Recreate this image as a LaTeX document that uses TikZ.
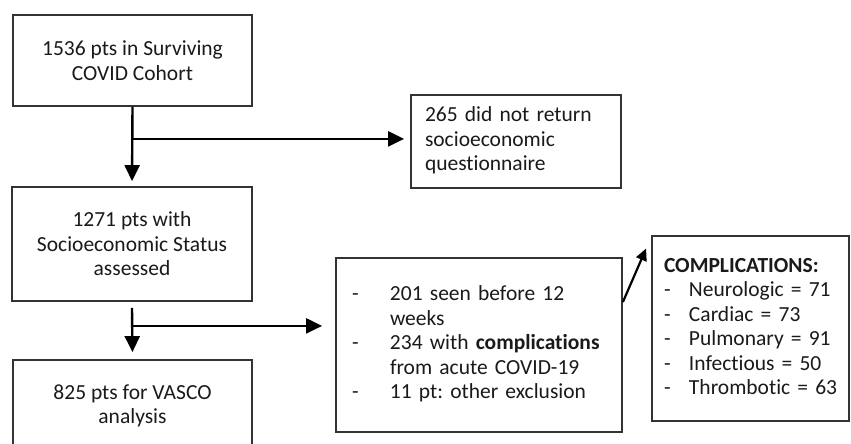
\documentclass[tikz,border=0pt]{standalone}
\usepackage{fontspec}
\setmainfont{Carlito}[Ligatures=NoCommon]
\usetikzlibrary{arrows.meta}
\definecolor{boxgray}{HTML}{333333}
\definecolor{txt}{HTML}{1A1A1A}
\frenchspacing
\begin{document}
\begin{tikzpicture}[x=1pt,y=-1pt,
  box/.style={draw=boxgray, line width=1.8pt, text=txt, inner sep=0pt,
    font=\fontsize{21.5}{24.5}\selectfont},
  lbox/.style={box, align=left},
  arr/.style={line width=2.4pt, -{Triangle[length=16pt,width=15pt]}},
  arrsmall/.style={line width=2.2pt, -{Triangle[length=12pt,width=11pt]}}]
\useasboundingbox (0,0) rectangle (851,444);
\clip (0,0) rectangle (851,444);
\fill[white] (0,0) rectangle (851,444);

\node[box, minimum width=239pt, minimum height=91pt, align=center] (b1) at (132.5,60.5)
  {1536 pts in Surviving\\COVID Cohort};
\node[box, minimum width=240pt, minimum height=114pt, align=center] (b2) at (132,244)
  {1271 pts with\\Socioeconomic Status\\assessed};
\node[box, minimum width=239pt, minimum height=92pt, align=center] (b3) at (132.5,406)
  {825 pts for VASCO\\analysis};
\node[lbox, inner xsep=14pt, text width=182pt, minimum height=93pt] (b265) at (516,141.5)
  {\noindent\begin{tabular}{@{}l@{}}265 did not return\\socioeconomic\\questionnaire\end{tabular}};
\node[lbox, inner xsep=16pt, text width=254pt, minimum height=174pt] (ex) at (479,345)
  {\noindent\begin{tabular}{@{}l@{}}
   \makebox[38pt][l]{-}201 seen before 12\\
   \hspace*{38pt}weeks\\
   \makebox[38pt][l]{-}234 with \textbf{complications}\\
   \hspace*{38pt}from acute COVID-19\\
   \makebox[38pt][l]{-}11 pt: other exclusion\end{tabular}};
\node[lbox, inner xsep=12pt, text width=173pt, minimum height=185pt] (comp) at (750.5,328.5)
  {\noindent\begin{tabular}{@{}l@{}}
   \textbf{COMPLICATIONS:}\\
   \makebox[25pt][l]{-}Neurologic = 71\\
   \makebox[25pt][l]{-}Cardiac = 73\\
   \makebox[25pt][l]{-}Pulmonary = 91\\
   \makebox[25pt][l]{-}Infectious = 50\\
   \makebox[25pt][l]{-}Thrombotic = 63\end{tabular}};

\coordinate (j1) at ([yshift=-32pt]b1.south);
\coordinate (s2) at ([yshift=-6pt]b2.south);
\coordinate (j2) at ([yshift=-24pt]b2.south);
\coordinate (d1) at ([yshift=43pt]ex.east);
\coordinate (d2) at ([xshift=-5pt,yshift=80pt]comp.west);

\draw[arr, shorten >=5pt] (b1.south) -- (b2.north);
\draw[arr, shorten >=6pt] (j1) -- (j1 -| b265.west);
\draw[arr, shorten >=7pt] (s2) -- (b3.north);
\draw[arr, shorten >=13pt] (j2) -- (j2 -| ex.west);
\draw[arrsmall] (d1) -- (d2);
\end{tikzpicture}
\end{document}
